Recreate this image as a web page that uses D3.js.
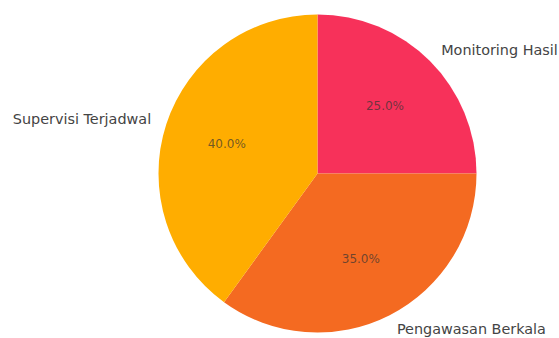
<!DOCTYPE html>
<html>
<head>
<meta charset="utf-8">
<script src="https://cdn.jsdelivr.net/npm/d3@7/dist/d3.min.js"></script>
<style>
  html, body { margin: 0; padding: 0; background: #fff; }
  svg { display: block; }
  text { font-family: "DejaVu Sans", sans-serif; }
</style>
</head>
<body>
<svg id="chart" width="559" height="338"></svg>
<script>
// Slice data, clockwise from 12 o'clock
const categories = ["Monitoring Hasil", "Pengawasan Berkala", "Supervisi Terjadwal"];
const shares = [25, 35, 40];
const colors = ["#F7315A", "#F46A21", "#FFAD00"];

const width = 559, height = 338;
const cx = 317.5, cy = 173.5, radius = 159;

const svg = d3.select("#chart");
const g = svg.append("g").attr("transform", `translate(${cx},${cy})`);

const pie = d3.pie().sort(null).value(d => d.value);
const arcs = pie(categories.map((c, i) => ({ name: c, value: shares[i], color: colors[i] })));

const arc = d3.arc().innerRadius(0).outerRadius(radius);
const pctArc = d3.arc().innerRadius(radius * 0.6).outerRadius(radius * 0.6);
const total = d3.sum(shares);

g.selectAll("path.slice")
  .data(arcs)
  .join("path")
  .attr("class", "slice")
  .attr("d", arc)
  .attr("fill", d => d.data.color);

// Category labels just outside the rim
g.selectAll("text.cat")
  .data(arcs)
  .join("text")
  .attr("class", "cat")
  .each(function(d) {
    const a = (d.startAngle + d.endAngle) / 2;
    const r = radius * 1.1;
    const x = r * Math.sin(a), y = -r * Math.cos(a);
    d3.select(this)
      .attr("x", x)
      .attr("y", y)
      .attr("text-anchor", x >= 0 ? "start" : "end");
  })
  .attr("dominant-baseline", "central")
  .attr("font-size", 14.4)
  .attr("fill", "#444")
  .text(d => d.data.name);

// Percentage labels inside slices
g.selectAll("text.pct")
  .data(arcs)
  .join("text")
  .attr("class", "pct")
  .attr("transform", d => `translate(${pctArc.centroid(d)})`)
  .attr("text-anchor", "middle")
  .attr("dominant-baseline", "central")
  .attr("font-size", 12)
  .attr("fill", "#333")
  .attr("fill-opacity", 0.7)
  .text(d => d3.format(".1f")(d.data.value / total * 100) + "%");
</script>
</body>
</html>
